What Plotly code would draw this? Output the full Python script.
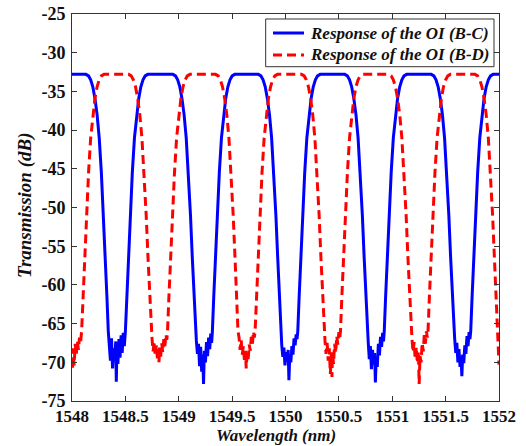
import plotly.graph_objects as go

# ---- Response of the OI (B-C): wavelength (nm) / transmission (dB) ----
bc_wavelength = [
    1548.0,
    1548.13, 1548.155, 1548.175, 1548.195, 1548.215, 1548.235, 1548.255, 1548.275, 1548.295, 1548.312, 1548.327, 1548.34,
    1548.35, 1548.36, 1548.37, 1548.38, 1548.39, 1548.40, 1548.41, 1548.415, 1548.42, 1548.43, 1548.44, 1548.45, 1548.46, 1548.47, 1548.48, 1548.49,
    1548.50, 1548.513, 1548.528, 1548.545, 1548.565, 1548.585, 1548.605, 1548.625, 1548.645, 1548.665, 1548.685, 1548.71,
    1548.945, 1548.97, 1548.99, 1549.01, 1549.03, 1549.05, 1549.07, 1549.09, 1549.11, 1549.127, 1549.142, 1549.155,
    1549.165, 1549.175, 1549.185, 1549.195, 1549.205, 1549.215, 1549.225, 1549.232, 1549.24, 1549.25, 1549.26, 1549.27, 1549.28, 1549.29, 1549.30, 1549.308,
    1549.315, 1549.328, 1549.343, 1549.36, 1549.38, 1549.40, 1549.42, 1549.44, 1549.46, 1549.48, 1549.50, 1549.525,
    1549.745, 1549.77, 1549.79, 1549.81, 1549.83, 1549.85, 1549.87, 1549.89, 1549.91, 1549.927, 1549.942, 1549.955,
    1549.965, 1549.975, 1549.985, 1549.995, 1550.005, 1550.015, 1550.025, 1550.032, 1550.04, 1550.05, 1550.06, 1550.07, 1550.08, 1550.09, 1550.10, 1550.108,
    1550.115, 1550.128, 1550.143, 1550.16, 1550.18, 1550.20, 1550.22, 1550.24, 1550.26, 1550.28, 1550.30, 1550.325,
    1550.555, 1550.58, 1550.60, 1550.62, 1550.64, 1550.66, 1550.68, 1550.70, 1550.72, 1550.737, 1550.752, 1550.765,
    1550.775, 1550.785, 1550.795, 1550.805, 1550.815, 1550.825, 1550.835, 1550.842, 1550.85, 1550.86, 1550.87, 1550.88, 1550.89, 1550.90, 1550.91, 1550.918,
    1550.925, 1550.938, 1550.953, 1550.97, 1550.99, 1551.01, 1551.03, 1551.05, 1551.07, 1551.09, 1551.11, 1551.135,
    1551.365, 1551.39, 1551.41, 1551.43, 1551.45, 1551.47, 1551.49, 1551.51, 1551.53, 1551.547, 1551.562, 1551.575,
    1551.585, 1551.595, 1551.605, 1551.615, 1551.625, 1551.635, 1551.645, 1551.652, 1551.66, 1551.67, 1551.68, 1551.69, 1551.70, 1551.71, 1551.72, 1551.728,
    1551.735, 1551.748, 1551.763, 1551.78, 1551.80, 1551.82, 1551.84, 1551.86, 1551.88, 1551.90, 1551.92, 1551.945,
    1552.0,
]
bc_transmission = [
    -32.8,
    -32.8, -33.0, -33.5, -34.4, -35.9, -38.0, -41.0, -45.5, -51.0, -56.5, -61.5, -66.0,
    -67.5, -69.8, -66.9, -70.8, -68.2, -69.5, -67.3, -72.5, -68.6, -70.2, -67.0, -69.4, -66.5, -68.8, -66.2, -67.9,
    -66.0, -61.5, -56.5, -51.0, -45.5, -41.0, -38.0, -35.9, -34.4, -33.5, -33.0, -32.8,
    -32.8, -33.0, -33.5, -34.4, -35.9, -38.0, -41.0, -45.5, -51.0, -56.5, -61.5, -66.0,
    -67.2, -68.9, -67.6, -70.5, -68.0, -71.2, -69.0, -72.8, -68.5, -70.0, -67.4, -69.2, -66.8, -68.3, -66.3, -67.5,
    -66.0, -61.5, -56.5, -51.0, -45.5, -41.0, -38.0, -35.9, -34.4, -33.5, -33.0, -32.8,
    -32.8, -33.0, -33.5, -34.4, -35.9, -38.0, -41.0, -45.5, -51.0, -56.5, -61.5, -66.0,
    -67.8, -69.3, -68.1, -70.4, -68.7, -69.9, -68.4, -72.3, -69.1, -70.0, -67.9, -69.0, -66.9, -67.8, -66.4, -67.0,
    -66.0, -61.5, -56.5, -51.0, -45.5, -41.0, -38.0, -35.9, -34.4, -33.5, -33.0, -32.8,
    -32.8, -33.0, -33.5, -34.4, -35.9, -38.0, -41.0, -45.5, -51.0, -56.5, -61.5, -66.0,
    -67.4, -69.6, -67.9, -70.9, -68.4, -70.3, -68.8, -72.6, -69.3, -70.6, -67.6, -69.1, -66.7, -68.0, -66.2, -67.3,
    -66.0, -61.5, -56.5, -51.0, -45.5, -41.0, -38.0, -35.9, -34.4, -33.5, -33.0, -32.8,
    -32.8, -33.0, -33.5, -34.4, -35.9, -38.0, -41.0, -45.5, -51.0, -56.5, -61.5, -66.0,
    -67.0, -68.8, -67.5, -70.0, -68.3, -70.6, -69.2, -71.8, -69.0, -70.1, -67.8, -68.9, -66.6, -67.9, -66.1, -67.0,
    -66.0, -61.5, -56.5, -51.0, -45.5, -41.0, -38.0, -35.9, -34.4, -33.5, -33.0, -32.8,
    -32.8,
]

# ---- Response of the OI (B-D) ----
bd_wavelength = [
    1548.0, 1548.005, 1548.01, 1548.02, 1548.03, 1548.04, 1548.05, 1548.06, 1548.07, 1548.08,
    1548.09, 1548.103, 1548.118, 1548.135, 1548.155, 1548.175, 1548.195, 1548.215, 1548.235, 1548.255, 1548.275, 1548.30,
    1548.53, 1548.555, 1548.575, 1548.595, 1548.615, 1548.635, 1548.655, 1548.675, 1548.695, 1548.712, 1548.727, 1548.74,
    1548.75, 1548.76, 1548.77, 1548.78, 1548.79, 1548.80, 1548.81, 1548.815, 1548.82, 1548.83, 1548.84, 1548.85, 1548.86, 1548.87, 1548.88, 1548.888,
    1548.895, 1548.908, 1548.923, 1548.94, 1548.96, 1548.98, 1549.00, 1549.02, 1549.04, 1549.06, 1549.08, 1549.105,
    1549.345, 1549.37, 1549.39, 1549.41, 1549.43, 1549.45, 1549.47, 1549.49, 1549.51, 1549.527, 1549.542, 1549.555,
    1549.565, 1549.575, 1549.585, 1549.595, 1549.605, 1549.615, 1549.625, 1549.632, 1549.64, 1549.65, 1549.66, 1549.67, 1549.68, 1549.69, 1549.70, 1549.708,
    1549.715, 1549.728, 1549.743, 1549.76, 1549.78, 1549.80, 1549.82, 1549.84, 1549.86, 1549.88, 1549.90, 1549.925,
    1550.15, 1550.175, 1550.195, 1550.215, 1550.235, 1550.255, 1550.275, 1550.295, 1550.315, 1550.332, 1550.347, 1550.36,
    1550.37, 1550.38, 1550.39, 1550.40, 1550.41, 1550.42, 1550.43, 1550.435, 1550.44, 1550.45, 1550.46, 1550.47, 1550.48, 1550.49, 1550.50, 1550.508,
    1550.515, 1550.528, 1550.543, 1550.56, 1550.58, 1550.60, 1550.62, 1550.64, 1550.66, 1550.68, 1550.70, 1550.725,
    1550.965, 1550.99, 1551.01, 1551.03, 1551.05, 1551.07, 1551.09, 1551.11, 1551.13, 1551.147, 1551.162, 1551.175,
    1551.185, 1551.195, 1551.205, 1551.215, 1551.225, 1551.235, 1551.245, 1551.252, 1551.26, 1551.27, 1551.28, 1551.29, 1551.30, 1551.31, 1551.32, 1551.328,
    1551.335, 1551.348, 1551.363, 1551.38, 1551.40, 1551.42, 1551.44, 1551.46, 1551.48, 1551.50, 1551.52, 1551.545,
    1551.775, 1551.80, 1551.82, 1551.84, 1551.86, 1551.88, 1551.90, 1551.92, 1551.94, 1551.957, 1551.972, 1551.985, 1551.992, 1552.0,
]
bd_transmission = [
    -69.5, -71.0, -68.2, -70.4, -67.6, -69.0, -67.2, -68.4, -66.8, -67.5,
    -66.0, -61.5, -56.5, -51.0, -45.5, -41.0, -38.0, -35.9, -34.4, -33.5, -33.0, -32.8,
    -32.8, -33.0, -33.5, -34.4, -35.9, -38.0, -41.0, -45.5, -51.0, -56.5, -61.5, -66.0,
    -67.0, -68.6, -67.3, -69.2, -67.8, -69.5, -68.3, -70.0, -68.1, -69.4, -67.5, -68.7, -67.0, -67.9, -66.4, -67.1,
    -66.0, -61.5, -56.5, -51.0, -45.5, -41.0, -38.0, -35.9, -34.4, -33.5, -33.0, -32.8,
    -32.8, -33.0, -33.5, -34.4, -35.9, -38.0, -41.0, -45.5, -51.0, -56.5, -61.5, -66.0,
    -66.8, -68.4, -67.1, -69.0, -67.9, -69.7, -68.5, -70.8, -68.9, -69.6, -67.7, -68.5, -66.7, -67.6, -66.0, -66.8,
    -66.0, -61.5, -56.5, -51.0, -45.5, -41.0, -38.0, -35.9, -34.4, -33.5, -33.0, -32.8,
    -32.8, -33.0, -33.5, -34.4, -35.9, -38.0, -41.0, -45.5, -51.0, -56.5, -61.5, -66.0,
    -67.2, -68.9, -67.5, -69.8, -68.2, -71.5, -68.7, -71.9, -69.0, -70.2, -67.6, -68.8, -66.6, -67.7, -66.1, -66.9,
    -66.0, -61.5, -56.5, -51.0, -45.5, -41.0, -38.0, -35.9, -34.4, -33.5, -33.0, -32.8,
    -32.8, -33.0, -33.5, -34.4, -35.9, -38.0, -41.0, -45.5, -51.0, -56.5, -61.5, -66.0,
    -67.0, -68.7, -67.4, -69.6, -68.0, -70.1, -68.6, -72.8, -69.2, -70.0, -67.5, -68.6, -66.5, -67.6, -66.0, -66.8,
    -66.0, -61.5, -56.5, -51.0, -45.5, -41.0, -38.0, -35.9, -34.4, -33.5, -33.0, -32.8,
    -32.8, -33.0, -33.5, -34.4, -35.9, -38.0, -41.0, -45.5, -51.0, -56.5, -61.5, -66.0, -68.5, -70.3,
]

series_names = ["Response of the OI (B-C)", "Response of the OI (B-D)"]
x_tick_values = [1548, 1548.5, 1549, 1549.5, 1550, 1550.5, 1551, 1551.5, 1552]
x_tick_labels = ["1548", "1548.5", "1549", "1549.5", "1550", "1550.5", "1551", "1551.5", "1552"]
y_tick_values = [-75, -70, -65, -60, -55, -50, -45, -40, -35, -30, -25]
y_tick_labels = ["-75", "-70", "-65", "-60", "-55", "-50", "-45", "-40", "-35", "-30", "-25"]
x_title = "Wavelength (nm)"
y_title = "Transmission (dB)"

SERIF = "Liberation Serif"
BLUE = "#0000FF"
RED = "#FF0000"
RED_DASH = "9px,5px"
TXT = "#111111"

fig = go.Figure()
fig.add_trace(go.Scatter(
    x=bc_wavelength, y=bc_transmission, mode="lines",
    name=series_names[0], showlegend=False,
    line=dict(color=BLUE, width=3),
))
fig.add_trace(go.Scatter(
    x=bd_wavelength, y=bd_transmission, mode="lines",
    name=series_names[1], showlegend=False,
    line=dict(color=RED, width=3, dash=RED_DASH),
))

axis_common = dict(
    showgrid=False, zeroline=False, automargin=False,
    showline=True, linecolor="#333333", linewidth=1, mirror="ticks",
    ticks="inside", ticklen=5, tickcolor="#333333",
)
tick_font = dict(family=SERIF, size=17, color=TXT, weight="bold")

# legend box drawn in paper coordinates (layout only)
legend_box = dict(x0=0.4536, x1=0.9883, y0=0.8638, y1=0.9871)
legend_rows_y = [0.9509, 0.8941]
legend_line_x = (0.4707, 0.5433)
legend_text_x = 0.5527

shapes = [dict(type="rect", xref="paper", yref="paper", layer="above",
               fillcolor="white", line=dict(color="#333333", width=1), **legend_box)]
annotations = []
for name, color, dash, yy in zip(series_names, [BLUE, RED], ["solid", RED_DASH], legend_rows_y):
    shapes.append(dict(type="line", xref="paper", yref="paper", layer="above",
                       x0=legend_line_x[0], x1=legend_line_x[1], y0=yy, y1=yy,
                       line=dict(color=color, width=3, dash=dash)))
    annotations.append(dict(text=name, xref="paper", yref="paper", x=legend_text_x, y=yy,
                            xanchor="left", yanchor="middle", showarrow=False,
                            font=dict(family=SERIF, size=17, color=TXT, weight="bold", style="italic")))

annotations.append(dict(text=x_title, xref="paper", yref="paper", x=0.478, y=-0.0904,
                        xanchor="center", yanchor="middle", showarrow=False,
                        font=dict(family=SERIF, size=17, color=TXT, weight="bold", style="italic")))
annotations.append(dict(text=y_title, xref="paper", yref="paper", x=-0.110, y=0.5065,
                        xanchor="center", yanchor="middle", showarrow=False, textangle=-90,
                        font=dict(family=SERIF, size=19, color=TXT, weight="bold", style="italic")))

fig.update_layout(
    width=526, height=446,
    margin=dict(l=72, r=27, t=14, b=45),
    paper_bgcolor="white", plot_bgcolor="white",
    xaxis=dict(range=[1548, 1552], tickvals=x_tick_values, ticktext=x_tick_labels,
               ticklabelstandoff=0, tickfont=tick_font, **axis_common),
    yaxis=dict(range=[-75, -25], tickvals=y_tick_values, ticktext=y_tick_labels,
               ticklabelstandoff=2, tickfont=dict(family=SERIF, size=18, color=TXT, weight="bold"),
               **axis_common),
    shapes=shapes,
    annotations=annotations,
    showlegend=False,
)

fig.write_html("out.html")
